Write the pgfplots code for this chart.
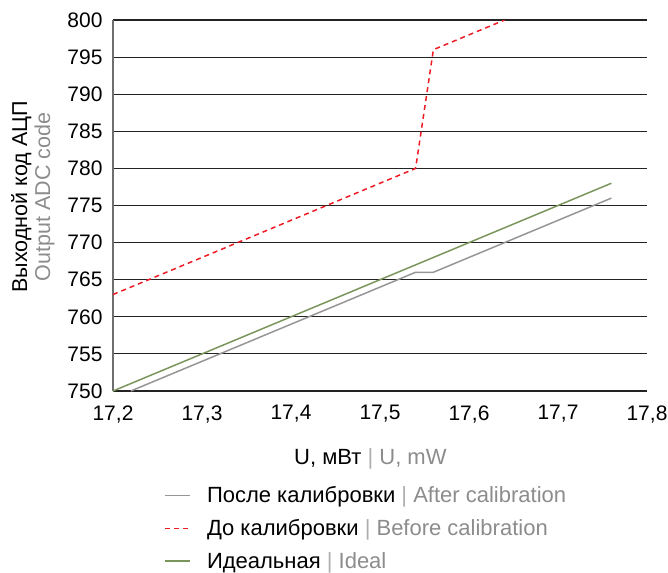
\documentclass[border=0pt]{standalone}
\usepackage{pgfplots}
\pgfplotsset{compat=1.18}
\usepackage{fontspec}
\setmainfont{Liberation Sans}
\definecolor{calgray}{RGB}{150,150,150}
\definecolor{befred}{RGB}{237,28,36}
\definecolor{idgreen}{RGB}{122,150,92}
\definecolor{txtgray}{RGB}{140,140,140}
\definecolor{sepgray}{RGB}{175,175,175}
\definecolor{gridc}{RGB}{35,35,35}
\definecolor{axgray}{RGB}{110,110,110}
\begin{document}
\begin{tikzpicture}
\begin{axis}[
  at={(0,0)}, anchor=south west,
  scale only axis, width=534pt, height=371pt,
  xmin=17.2, xmax=17.8, ymin=750, ymax=800,
  xtick={17.2,17.3,17.4,17.5,17.6,17.7,17.8},
  ytick={750,755,760,765,770,775,780,785,790,795,800},
  axis x line*=bottom, axis y line*=left,
  x axis line style={draw=none,-},
  y axis line style={draw=axgray, line width=1.2pt,-},
  major tick length=0pt,
  ymajorgrids, grid style={gridc, line width=1.1pt},
  /pgf/number format/assume math mode=true,
  xticklabel style={/pgf/number format/use comma, /pgf/number format/fixed, /pgf/number format/fixed zerofill, /pgf/number format/precision=1, yshift=-11pt},
  yticklabel style={/pgf/number format/fixed, /pgf/number format/precision=0, /pgf/number format/set thousands separator={}, xshift=-7pt},
  ticklabel style={font=\fontsize{21}{25}\selectfont},
  xlabel={U, мВт {\color{sepgray}|} {\color{txtgray}U, mW}},
  xlabel style={at={(axis description cs:0.482,0)}, anchor=center, yshift=-68pt, font=\fontsize{22}{26}\selectfont},
  ylabel={Выходной код АЦП\\{\color{txtgray}Output ADC code}},
  ylabel style={at={(axis description cs:-0.150,0.523)}, anchor=center, align=center, font=\fontsize{21.5}{23}\selectfont},
  legend cell align=left,
  legend style={at={(axis description cs:0.090,-0.247)}, anchor=north west, draw=none, fill=none,
    font=\fontsize{22}{26}\selectfont, row sep=11pt,
    nodes={inner sep=2pt}},
  legend image code/.code={\draw[#1] (0pt,0pt) -- (25pt,0pt); \path[draw=none] (0pt,0pt) -- (40pt,0pt);},
]
\addplot[calgray, line width=1.5pt] coordinates {(17.22,750) (17.54,766) (17.56,766) (17.76,776)};
\addlegendentry{После калибровки {\color{sepgray}|} {\color{txtgray}After calibration}}
\addplot[befred, line width=1.5pt, dash pattern=on 5pt off 4pt] coordinates {(17.2,763) (17.54,780) (17.56,796) (17.64,800)};
\addlegendentry{До калибровки {\color{sepgray}|} {\color{txtgray}Before calibration}}
\addplot[idgreen, line width=1.5pt] coordinates {(17.2,750) (17.76,778)};
\addlegendentry{Идеальная {\color{sepgray}|} {\color{txtgray}Ideal}}
\end{axis}
\pgfresetboundingbox
\path (-113pt,-181pt) rectangle (555pt,391pt);
\end{tikzpicture}
\end{document}
